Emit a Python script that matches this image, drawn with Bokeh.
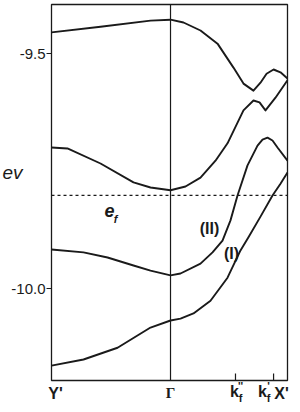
import math
from bokeh.plotting import figure
from bokeh.models import Range1d
from bokeh.core.properties import value
from bokeh.embed import file_html
from bokeh.resources import INLINE

# --- data (k in units of the Y'-Gamma distance; energies in eV) ---
k_ticks = [-1.0, 0.0, 0.546, 0.866, 0.983]
k_names = ["Y'", "Γ", "k", "k", "X'"]
k_sub = ["", "", "f", "f", ""]
k_sup = ["", "", "''", "'", ""]
e_ticks = [-9.5, -10.0]
e_tick_labels = ["-9.5", "-10.0"]
fermi_level = -9.802
e_top, e_bottom = -9.3957, -10.1957

band1_k = [-1.0, -0.588, -0.168, 0.0, 0.109, 0.252, 0.395, 0.529, 0.613, 0.697, 0.756, 0.807, 0.866, 0.924, 0.983]
band1_e = [-9.455, -9.443, -9.430, -9.428, -9.434, -9.451, -9.479, -9.530, -9.564, -9.579, -9.562, -9.543, -9.534, -9.540, -9.553]

band2_k = [-1.0, -0.866, -0.588, -0.311, -0.168, 0.0, 0.126, 0.252, 0.378, 0.479, 0.613, 0.697, 0.748, 0.798, 0.882, 0.983]
band2_e = [-9.700, -9.702, -9.734, -9.774, -9.785, -9.791, -9.783, -9.764, -9.728, -9.691, -9.621, -9.600, -9.604, -9.621, -9.594, -9.557]

band3_k = [-1.0, -0.731, -0.529, -0.311, -0.168, 0.0, 0.084, 0.252, 0.353, 0.437, 0.504, 0.563, 0.647, 0.731, 0.773, 0.815, 0.857, 0.899, 0.983]
band3_e = [-9.917, -9.923, -9.934, -9.951, -9.962, -9.972, -9.968, -9.947, -9.923, -9.898, -9.855, -9.802, -9.738, -9.696, -9.683, -9.679, -9.685, -9.700, -9.728]

band4_k = [-1.0, -0.731, -0.445, -0.168, 0.0, 0.084, 0.193, 0.336, 0.479, 0.588, 0.655, 0.756, 0.857, 0.924, 0.983]
band4_e = [-10.164, -10.151, -10.126, -10.083, -10.068, -10.064, -10.053, -10.026, -9.977, -9.919, -9.891, -9.847, -9.802, -9.777, -9.753]

bands = [(band1_k, band1_e), (band2_k, band2_e), (band3_k, band3_e), (band4_k, band4_e)]

# --- layout: the framed box sits at pixels x 51..287, y 4..380 of a 300x412 canvas ---
W, H = 300, 412
BOX_L, BOX_R, BOX_T, BOX_B = 51, 287, 4, 380
x_lo, x_hi = k_ticks[0], k_ticks[-1]
sx = (BOX_R - BOX_L) / (x_hi - x_lo)
sy = (BOX_B - BOX_T) / (e_top - e_bottom)
vx0 = x_lo - BOX_L / sx
vx1 = x_hi + (W - BOX_R) / sx
vy1 = e_top + BOX_T / sy
vy0 = e_bottom - (H - BOX_B) / sy

def px2x(px):
    return vx0 + px / sx

def py2y(py):
    return vy1 - py / sy

FONT = "Liberation Sans"
INK = "#1a1a1a"

p = figure(width=W, height=H, output_backend="svg", toolbar_location=None,
           x_range=Range1d(vx0, vx1), y_range=Range1d(vy0, vy1),
           x_axis_location=None, y_axis_location=None, min_border=0,
           outline_line_color=None)
p.grid.visible = False
p.background_fill_color = "white"
p.border_fill_color = "white"

# frame box
p.quad(left=x_lo, right=x_hi, bottom=e_bottom, top=e_top, fill_color=None,
       line_color=INK, line_width=1.3)
# Gamma vertical line
p.segment(x0=[k_ticks[1]], y0=[e_bottom], x1=[k_ticks[1]], y1=[e_top], line_color=INK, line_width=1.2)
# Fermi level
p.segment(x0=[x_lo], y0=[fermi_level], x1=[x_hi], y1=[fermi_level], line_color=INK,
          line_width=1.3, line_dash="3 3")

# ticks: energy ticks outward to the left, k_f ticks inward from the bottom
p.ray(x=[x_lo] * len(e_ticks), y=e_ticks, length=5, length_units="screen", angle=math.pi,
      line_color=INK, line_width=1.2)
p.ray(x=k_ticks[2:4], y=[e_bottom] * 2, length=7, length_units="screen", angle=math.pi / 2,
      line_color=INK, line_width=1.2)

# bands
for bk, be in bands:
    p.line(bk, be, line_color=INK, line_width=1.9, line_join="round")

# energy tick labels
p.text(x=[px2x(BOX_L - 6)] * len(e_ticks), y=e_ticks, text=e_tick_labels,
       text_font=value(FONT), text_font_size="15px", text_color=INK,
       text_align="right", text_baseline="middle")

def txt(px, py, s, size, style="normal", font=FONT):
    p.text(x=[px2x(px)], y=[py2y(py)], text=[s], text_font=value(font), text_font_size=size,
           text_font_style=style, text_color=INK, text_align="center", text_baseline="middle")

# bottom labels (Y', Gamma, k_f'', k_f', X')
name_px = [55, 170, 234, 262, 281]
for i, name in enumerate(k_names):
    if name == "Γ":
        txt(name_px[i], 392, name, "15px", style="bold", font="Liberation Serif")
    else:
        txt(name_px[i], 391 if name == "k" else 393, name, "16px", style="bold")
    if k_sub[i]:
        txt(name_px[i] + 6, 397, k_sub[i], "11px", style="bold")
    if k_sup[i]:
        txt(name_px[i] + 6, 385, k_sup[i], "11px", style="bold")

# other texts
txt(12, 172, "ev", "19px", style="italic")
txt(109, 210, "e", "18px", style="bold italic")
txt(115, 218, "f", "11px", style="bold italic")
txt(209, 228, "(II)", "16px", style="bold")
txt(231, 253, "(I)", "16px", style="bold")

open("out.html", "w").write(file_html(p, INLINE))
